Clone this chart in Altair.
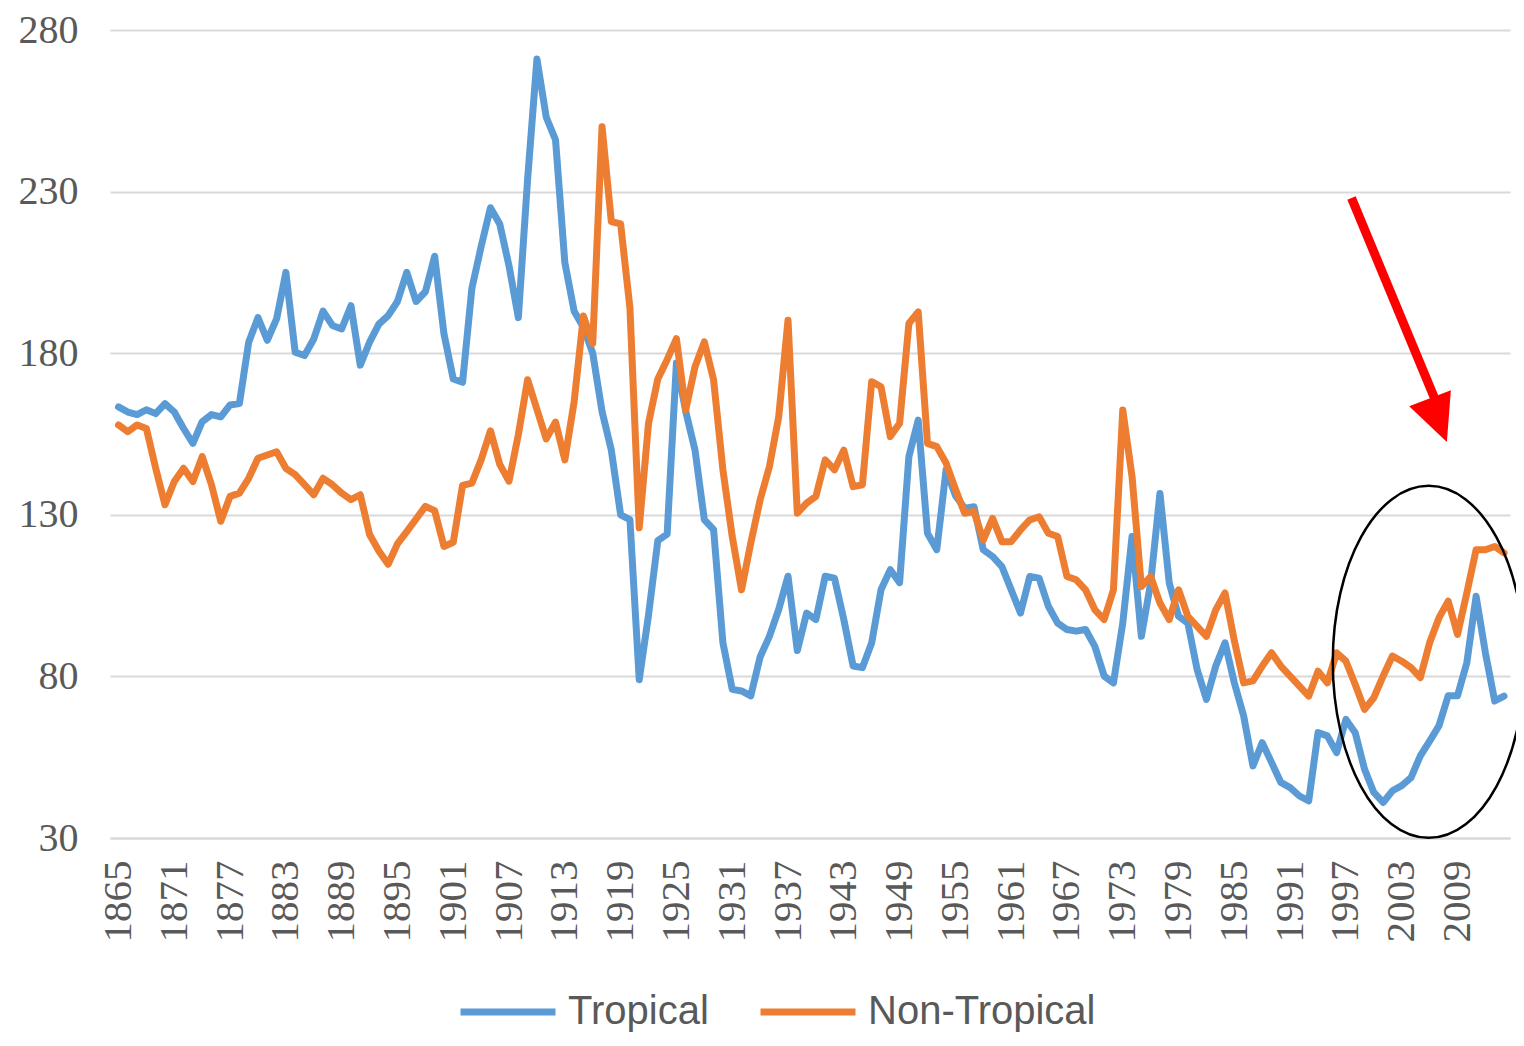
import altair as alt
import pandas as pd

# ---------------- data ----------------
years = list(range(1865, 2015))

tropical = [
    163.4, 161.8, 161.0, 162.5, 161.3, 164.4, 161.8, 156.7, 152.1, 158.8,
    161.0, 160.3, 164.0, 164.4, 183.4, 191.0, 184.0, 190.6, 205.0, 180.3,
    179.3, 184.4, 193.0, 188.6, 187.5, 194.7, 176.3, 183.4, 189.0, 191.6,
    196.0, 205.0, 196.0, 199.0, 210.0, 186.0, 172.0, 171.0, 200.0, 213.0,
    225.0, 220.0, 207.0, 191.0, 234.0, 271.0, 253.0, 246.0, 208.0, 193.0,
    188.0, 180.0, 162.0, 150.0, 130.0, 128.5, 79.0, 99.0, 122.0, 124.0,
    177.0, 162.0, 150.0, 128.5, 125.4, 90.4, 76.0, 75.5, 74.0, 86.0,
    92.4, 100.7, 111.0, 88.0, 99.6, 97.6, 111.0, 110.4, 97.6, 83.2,
    82.7, 90.4, 106.8, 113.0, 109.0, 148.0, 159.3, 124.3, 119.2, 143.9,
    136.0, 132.0, 132.5, 119.2, 117.1, 114.0, 106.8, 99.6, 110.9, 110.4,
    101.7, 96.5, 94.5, 94.0, 94.5, 89.3, 80.1, 78.0, 96.5, 123.3,
    92.4, 108.9, 136.6, 108.9, 98.6, 96.5, 82.1, 72.9, 83.2, 90.4,
    78.0, 67.8, 52.3, 59.5, 53.4, 47.2, 45.6, 43.0, 41.5, 62.6,
    61.6, 56.4, 66.7, 62.6, 51.3, 44.1, 41.0, 44.6, 46.2, 48.7,
    55.4, 60.0, 64.7, 74.0, 74.0, 84.2, 104.8, 87.3, 72.4, 73.9,
]

non_tropical = [
    157.8, 155.7, 157.8, 156.7, 144.4, 133.1, 140.3, 144.4, 140.3, 148.0,
    139.3, 128.0, 135.7, 136.7, 141.3, 147.5, 148.5, 149.5, 144.4, 142.4,
    139.3, 136.2, 141.3, 139.3, 136.7, 134.7, 136.2, 123.9, 118.8, 114.7,
    121.0, 124.8, 128.7, 132.6, 131.3, 120.2, 121.5, 139.1, 139.8, 147.0,
    156.0, 145.6, 140.4, 154.8, 171.8, 162.6, 153.5, 158.7, 147.0, 165.0,
    191.5, 183.0, 250.1, 220.7, 220.0, 194.0, 126.0, 158.3, 172.0, 178.0,
    184.5, 162.4, 175.8, 183.5, 171.7, 143.9, 123.3, 106.8, 121.3, 134.6,
    144.9, 160.3, 190.2, 130.5, 133.6, 135.7, 147.0, 143.9, 150.0, 138.7,
    139.3, 171.2, 169.6, 154.2, 158.3, 189.2, 192.8, 152.1, 151.1, 146.0,
    138.0, 130.5, 131.0, 122.2, 128.9, 121.7, 121.7, 125.3, 128.4, 129.4,
    124.3, 123.3, 110.9, 109.9, 106.8, 100.6, 97.6, 106.8, 162.4, 141.8,
    107.8, 110.9, 102.7, 97.6, 106.8, 98.6, 95.5, 92.4, 100.6, 105.8,
    91.0, 78.0, 78.6, 83.2, 87.3, 83.2, 80.1, 77.0, 73.9, 81.6,
    78.0, 87.3, 84.7, 77.5, 69.8, 73.4, 80.1, 86.3, 84.7, 82.7,
    79.6, 90.4, 98.1, 103.3, 93.0, 105.8, 119.2, 119.2, 120.2, 118.2,
]

series_names = ["Tropical", "Non-Tropical"]
series_colors = ["#5B9BD5", "#ED7D31"]

x_tick_years = [1865, 1871, 1877, 1883, 1889, 1895, 1901, 1907, 1913, 1919,
                1925, 1931, 1937, 1943, 1949, 1955, 1961, 1967, 1973, 1979,
                1985, 1991, 1997, 2003, 2009]
y_ticks = [30, 80, 130, 180, 230, 280]

# annotation (arrow + ellipse) in data coordinates
arrow_years = [1997.6, 2006.7]
arrow_values = [228.0, 164.9]
arrow_head_year = [2006.95]
arrow_head_value = [159.3]
ellipse_year = [2005.9]
ellipse_value = [84.5]

# ---------------- tables ----------------
df_trop = pd.DataFrame({"year": years, "value": tropical, "series": series_names[0]})
df_non = pd.DataFrame({"year": years, "value": non_tropical, "series": series_names[1]})
df_arrow = pd.DataFrame({"year": [arrow_years[0]], "value": [arrow_values[0]],
                         "year2": [arrow_years[1]], "value2": [arrow_values[1]]})
df_head = pd.DataFrame({"year": arrow_head_year, "value": arrow_head_value})
df_ell = pd.DataFrame({"year": ellipse_year, "value": ellipse_value})

AXIS_FONT = "Liberation Serif"
TEXT_COLOR = "#595959"
GRID = "#D9D9D9"

x_scale = alt.Scale(domain=[1864.086, 2014.645], nice=False, zero=False)
y_scale = alt.Scale(domain=[30, 280], nice=False, zero=False)

x_enc = alt.X("year:Q", scale=x_scale, title=None,
              axis=alt.Axis(values=x_tick_years, format="d", labelAngle=270,
                            labelFont=AXIS_FONT, labelFontSize=41, labelColor=TEXT_COLOR,
                            labelPadding=22, ticks=False, grid=False,
                            domain=True, domainColor=GRID, domainWidth=2,
                            labelOverlap=False, labelFlush=False))
y_enc = alt.Y("value:Q", scale=y_scale, title=None,
              axis=alt.Axis(values=y_ticks, labelFont=AXIS_FONT, labelFontSize=40,
                            labelColor=TEXT_COLOR, labelPadding=32, ticks=False,
                            domain=False, grid=True, gridColor=GRID, gridWidth=2))

color_enc = alt.Color("series:N",
                      scale=alt.Scale(domain=series_names, range=series_colors),
                      legend=alt.Legend(orient="none", legendX=347, legendY=931,
                                        direction="horizontal", title=None,
                                        symbolType="stroke", symbolSize=9025,
                                        symbolStrokeWidth=7, labelFontSize=40,
                                        labelFont="Liberation Sans", labelColor=TEXT_COLOR,
                                        labelOffset=9, columnPadding=37, padding=0,
                                        labelLimit=600))

line_kw = dict(strokeWidth=7, strokeJoin="round", strokeCap="round")

trop = alt.Chart(df_trop).mark_line(**line_kw).encode(x=x_enc, y=y_enc, color=color_enc)
non = alt.Chart(df_non).mark_line(**line_kw).encode(x=x_enc, y=y_enc, color=color_enc)

arrow = alt.Chart(df_arrow).mark_rule(color="#FF0000", strokeWidth=9).encode(
    x=alt.X("year:Q"), y=alt.Y("value:Q"), x2="year2:Q", y2="value2:Q")

tri_path = "M -0.95 -1 L 0.95 -1 L 0 1 Z"
head = alt.Chart(df_head).mark_point(shape=tri_path, size=2209, filled=True,
                                     color="#FF0000", opacity=1, angle=339).encode(
    x=alt.X("year:Q"), y=alt.Y("value:Q"))

ell_path = ("M 0 -1 C 0.301 -1 0.545 -0.552 0.545 0 C 0.545 0.552 0.301 1 0 1 "
            "C -0.301 1 -0.545 0.552 -0.545 0 C -0.545 -0.552 -0.301 -1 0 -1 Z")
ellipse = alt.Chart(df_ell).mark_point(shape=ell_path, size=123904, filled=False,
                                       stroke="black", strokeWidth=2.5, opacity=1).encode(
    x=alt.X("year:Q"), y=alt.Y("value:Q"))

chart = alt.layer(trop, non, arrow, head, ellipse).properties(
    width=1400, height=808, autosize="none",
    padding={"left": 102, "top": 22, "right": 6, "bottom": 196},
    background="white",
).configure_view(stroke=None)

chart.save("out.html", embed_options={"renderer": "svg", "actions": False})
